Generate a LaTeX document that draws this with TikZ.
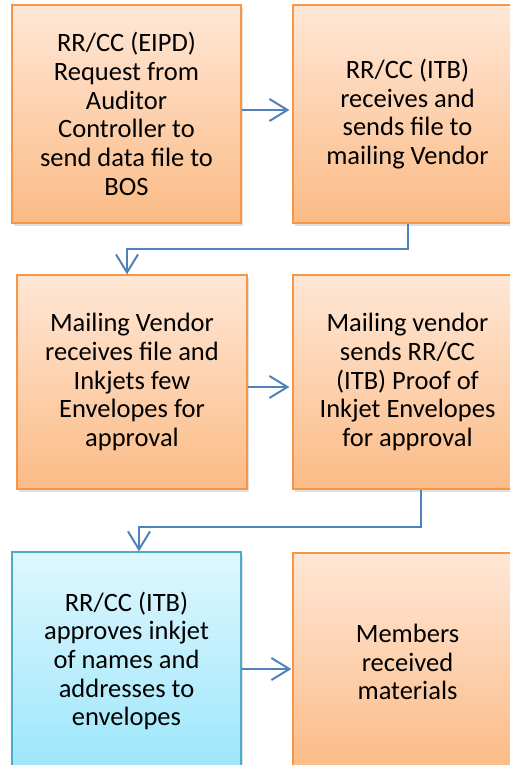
\documentclass[tikz,border=0pt]{standalone}
\usepackage{fontspec}
\setmainfont{Carlito}
\usetikzlibrary{arrows.meta,shadows}
\definecolor{stepedge}{HTML}{F79646}
\definecolor{steptop}{HTML}{FFE7D6}
\definecolor{stepbottom}{HTML}{FBBB86}
\definecolor{doneedge}{HTML}{4BACC6}
\definecolor{donetop}{HTML}{DFF7FE}
\definecolor{donebottom}{HTML}{9DE6FB}
\definecolor{flowblue}{HTML}{4F81BD}
\tikzset{
  stepbox/.style={draw=stepedge, line width=1.3pt, top color=steptop, bottom color=stepbottom,
    minimum width=229pt, minimum height=218pt, align=center, inner sep=0pt,
    font=\fontsize{26.5}{28.7}\selectfont,
    drop shadow={shadow xshift=1.5pt, shadow yshift=-3pt, opacity=0.25}},
  donebox/.style={stepbox, draw=doneedge, top color=donetop, bottom color=donebottom},
  flow/.style={draw=flowblue, line width=2pt, -{Straight Barb[length=18pt,width=22pt,line width=2pt]}}
}
\begin{document}
\begin{tikzpicture}[x=1pt,y=-1pt]
    \useasboundingbox (0,0) rectangle (510,765);
    \node[stepbox] (request) at (126.5,114) {RR/CC (EIPD)\\Request from\\Auditor\\Controller to\\send data file to\\BOS}; % first step
    \node[stepbox] (sendfile) at (407.5,114) {RR/CC (ITB)\\receives and\\sends file to\\mailing Vendor};
    \node[stepbox, minimum width=230pt, minimum height=214pt] (inkjet) at (132,382) {Mailing Vendor\\receives file and\\Inkjets few\\Envelopes for\\approval};
    \node[stepbox, minimum height=214pt] (proof) at (407.5,382) {Mailing vendor\\sends RR/CC\\(ITB) Proof of\\Inkjet Envelopes\\for approval};
    \node[donebox] (approve) at (126.5,661) {RR/CC (ITB)\\approves inkjet\\of names and\\addresses to\\envelopes}; % highlighted step
    \node[stepbox] (members) at (407.5,662) {Members\\received\\materials}; % last step
    \draw[flow] ([yshift=4pt]request.east) -- ([yshift=4pt,xshift=-3pt]request.east -| sendfile.west);
    \draw[flow] (sendfile.south) -- ++(0,25) -| ([xshift=-5pt]inkjet.north);
    \draw[flow] ([yshift=-5pt]inkjet.east) -- ([yshift=-5pt,xshift=-3pt]inkjet.east -| proof.west);
    \draw[flow] ([xshift=13.5pt]proof.south) -- ++(0,37) -| ([xshift=12.5pt]approve.north);
    \draw[flow] ([yshift=-8pt]approve.east) -- ([yshift=-8pt,xshift=-1pt]approve.east -| members.west);
  \end{tikzpicture}
\end{document}
